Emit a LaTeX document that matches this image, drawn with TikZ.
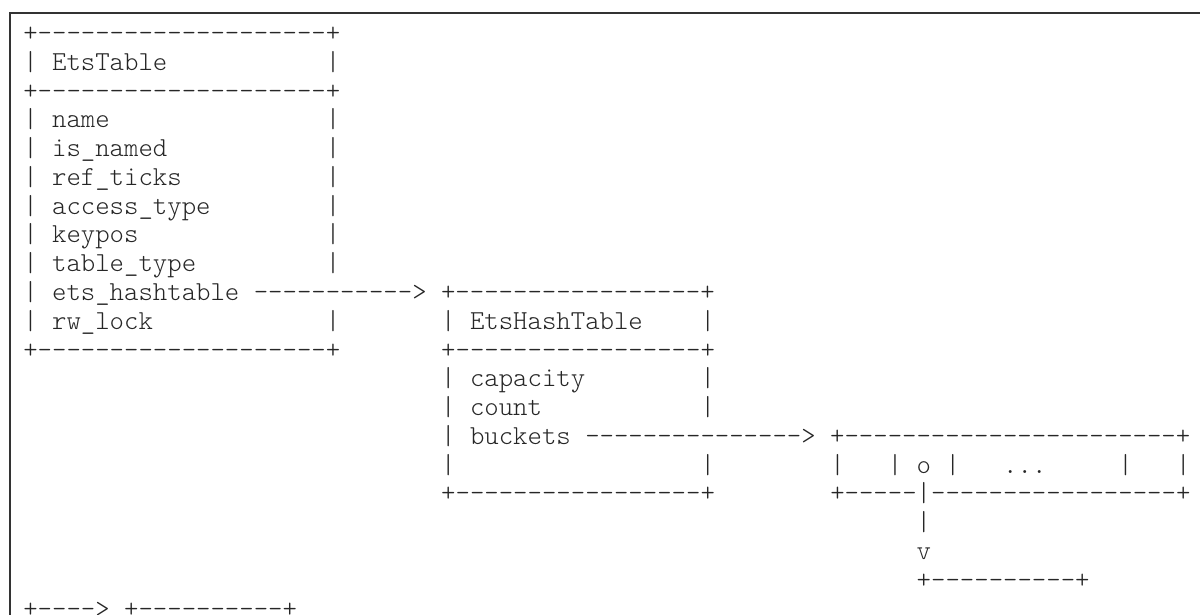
\documentclass[tikz,border=0pt]{standalone}
\usepackage{fontspec}
\usepackage{tikz}
\usepackage{xcolor}
\newfontfamily\lmlight{lmmonolt10-regular.otf}
\definecolor{asciiink}{HTML}{262626}
\definecolor{framegray}{HTML}{333333}
\newcommand{\asciifont}{\lmlight\fontsize{13.72}{14.4}\selectfont}

\tikzset{
  asc/.style={anchor=base west, inner sep=0pt, outer sep=0pt, text=asciiink, font=\asciifont},
  frameline/.style={framegray, line width=0.85pt}
}

\begin{document}
\begin{tikzpicture}
  \useasboundingbox (0,0) rectangle (600pt,-307.5pt);
  % code block frame
  \draw[frameline] (5pt,-307.5pt) -- (5pt,-6.35pt) -- (600pt,-6.35pt);
  \begin{scope}[x=7.205pt, y=-14.39pt, shift={(11.65pt,-20.75pt)}]
    % EtsTable
    \node[asc] (r0)   at (0,0)  {+--------------------+};
    \node[asc] (r1a)  at (0,1)  {| EtsTable};
    \node[asc] (r1b)  at (21,1) {|};
    \node[asc] (r2)   at (0,2)  {+--------------------+};
    \node[asc] (r3a)  at (0,3)  {| name};
    \node[asc] (r3b)  at (21,3) {|};
    \node[asc] (r4a)  at (0,4)  {| is\_named};
    \node[asc] (r4b)  at (21,4) {|};
    \node[asc] (r5a)  at (0,5)  {| ref\_ticks};
    \node[asc] (r5b)  at (21,5) {|};
    \node[asc] (r6a)  at (0,6)  {| access\_type};
    \node[asc] (r6b)  at (21,6) {|};
    \node[asc] (r7a)  at (0,7)  {| keypos};
    \node[asc] (r7b)  at (21,7) {|};
    \node[asc] (r8a)  at (0,8)  {| table\_type};
    \node[asc] (r8b)  at (21,8) {|};
    \node[asc] (r9)   at (0,9)  {| ets\_hashtable -----------> +-----------------+};
    \node[asc] (r10a) at (0,10) {| rw\_lock};
    \node[asc] (r10b) at (21,10) {|};
    % EtsHashTable
    \node[asc] (r10c) at (29,10) {| EtsHashTable};
    \node[asc] (r10d) at (47,10) {|};
    \node[asc] (r11a) at (0,11) {+--------------------+};
    \node[asc] (r11b) at (29,11) {+-----------------+};
    \node[asc] (r12a) at (29,12) {| capacity};
    \node[asc] (r12b) at (47,12) {|};
    \node[asc] (r13a) at (29,13) {| count};
    \node[asc] (r13b) at (47,13) {|};
    \node[asc] (r14)  at (29,14) {| buckets ---------------> +-----------------------+};
    \node[asc] (r15a) at (29,15) {|};
    \node[asc] (r15b) at (47,15) {|};
    % bucket array
    \node[asc] (r15c) at (56,15) {|};
    \node[asc] (r15d) at (60,15) {| o |};
    \node[asc] (r15e) at (68,15) {...};
    \node[asc] (r15f) at (76,15) {|};
    \node[asc] (r15g) at (80,15) {|};
    \node[asc] (r16a) at (29,16) {+-----------------+};
    \node[asc] (r16b) at (56,16) {+-----|-----------------+};
    \node[asc] (r17)  at (62,17) {|};
    \node[asc] (r18)  at (62,18) {v};
    \node[asc] (r19)  at (62,19) {+----------+};
    \node[asc] (r20)  at (0,20) {+----> +----------+};
  \end{scope}
\end{tikzpicture}
\end{document}
